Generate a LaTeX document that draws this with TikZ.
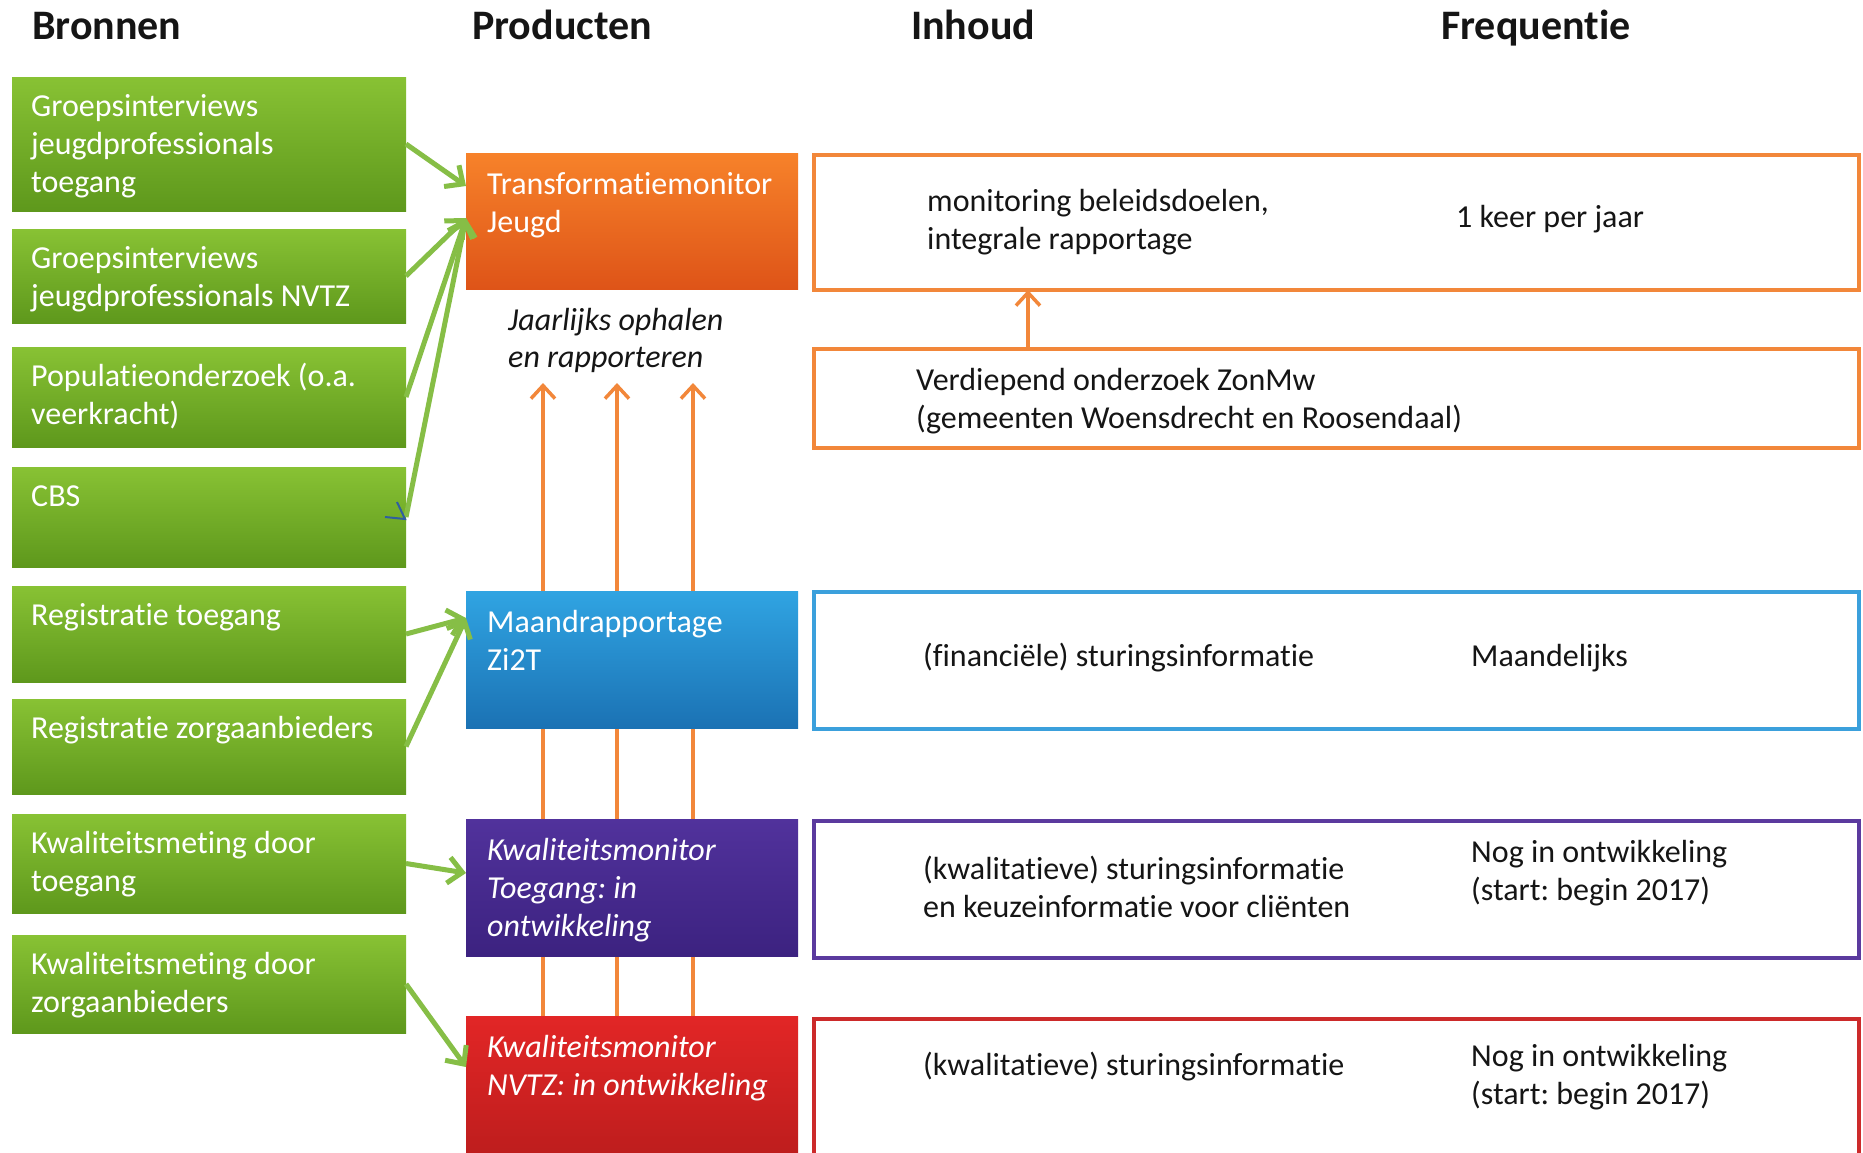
\documentclass[tikz,border=0pt]{standalone}
\usepackage{fontspec}
\setmainfont{Carlito}[Ligatures=CommonOff]
\usetikzlibrary{arrows.meta}
\definecolor{gtop}{HTML}{88C234}
\definecolor{gbot}{HTML}{5E981C}
\definecolor{garr}{HTML}{86BE46}
\definecolor{otop}{HTML}{F7822A}
\definecolor{obot}{HTML}{DE5418}
\definecolor{btop}{HTML}{30A4E2}
\definecolor{bbot}{HTML}{1B72B4}
\definecolor{ptop}{HTML}{51329C}
\definecolor{pbot}{HTML}{3C2280}
\definecolor{rtop}{HTML}{E22626}
\definecolor{rbot}{HTML}{B81C1C}
\definecolor{oline}{HTML}{F2873A}
\definecolor{bline}{HTML}{3BA0DC}
\definecolor{pline}{HTML}{5B3A9E}
\definecolor{rline}{HTML}{CC2A2A}
\definecolor{ink}{HTML}{151515}
\definecolor{bmark}{HTML}{2F5FA0}
\newcommand{\fs}{\rule{0pt}{26pt}}
\frenchspacing
\begin{document}
\begin{tikzpicture}[x=1pt,y=-1pt,
  box/.style={anchor=north west, inner sep=0pt, outer sep=0pt},
  gbox/.style={box, minimum width=394pt, top color=gtop, bottom color=gbot, draw=none},
  pbox/.style={box, minimum width=332pt, minimum height=137pt, draw=none},
  rbox/.style={box, minimum width=1045pt, line width=4pt, fill=white},
  txt/.style={anchor=north west, inner sep=0pt, align=left, font=\fontsize{32pt}{38pt}\selectfont},
  wtext/.style={txt, text=white},
  wit/.style={txt, text=white, font=\fontsize{32pt}{38pt}\selectfont\itshape},
  btext/.style={txt, text=ink},
  head/.style={anchor=base west, inner sep=0pt, text=ink, font=\fontsize{42pt}{48pt}\selectfont\bfseries},
  garrow/.style={draw=garr, line width=5pt, -{Straight Barb[length=14pt,width=26pt]}},
  oarrow/.style={draw=oline, line width=3.5pt, -{Straight Barb[length=13pt,width=24pt]}}
]
\fill[white] (0,0) rectangle (1863,1152);
\clip (0,0) rectangle (1863,1152);

% headings
\node[head] (h1) at (32,39) {Bronnen};
\node[head] (h2) at (472,39) {Producten};
\node[head] (h3) at (911,39) {Inhoud};
\node[head] (h4) at (1441,39) {Frequentie};

% sources
\node[gbox, minimum height=134pt] (g1) at (12,77) {};
\node[gbox, minimum height=94pt]  (g2) at (12,229) {};
\node[gbox, minimum height=100pt] (g3) at (12,347) {};
\node[gbox, minimum height=100pt] (g4) at (12,467) {};
\node[gbox, minimum height=96pt]  (g5) at (12,586) {};
\node[gbox, minimum height=95pt]  (g6) at (12,699) {};
\node[gbox, minimum height=99pt]  (g7) at (12,814) {};
\node[gbox, minimum height=98pt]  (g8) at (12,935) {};

\node[wtext] (g1t) at (31,90) {\fs Groepsinterviews\\jeugdprofessionals\\toegang};
\node[wtext] (g2t) at (31,242) {\fs Groepsinterviews\\jeugdprofessionals NVTZ};
\node[wtext] (g3t) at (31,360) {\fs Populatieonderzoek (o.a.\\veerkracht)};
\node[wtext] (g4t) at (31,480) {\fs CBS};
\node[wtext] (g5t) at (31,599) {\fs Registratie toegang};
\node[wtext] (g6t) at (31,712) {\fs Registratie zorgaanbieders};
\node[wtext] (g7t) at (31,827) {\fs Kwaliteitsmeting door\\toegang};
\node[wtext] (g8t) at (31,948) {\fs Kwaliteitsmeting door\\zorgaanbieders};

% product boxes (red first, arrows behind the others)
\node[pbox, top color=rtop, bottom color=rbot, minimum height=160pt] (red) at (466,1016) {};
\coordinate (t1) at (543,383);
\coordinate (t2) at (617,383);
\coordinate (t3) at (693,383);
\draw[oarrow] ([xshift=77pt]red.north west) -- (t1);
\draw[oarrow] ([xshift=151pt]red.north west) -- (t2);
\draw[oarrow] ([xshift=227pt]red.north west) -- (t3);

\node[pbox, top color=otop, bottom color=obot, minimum height=136pt] (orange) at (466,153) {};
\node[pbox, top color=btop, bottom color=bbot] (blue) at (466,591) {};
\node[pbox, top color=ptop, bottom color=pbot] (purple) at (466,819) {};

\node[wtext] (ot) at (487,168) {\fs Transformatiemonitor\\Jeugd};
\node[wtext] (bt) at (487,606) {\fs Maandrapportage\\Zi2T};
\node[wit] (pt) at (487,834) {\fs Kwaliteitsmonitor\\Toegang: in\\ontwikkeling};
\node[wit] (rt) at (487,1031) {\fs Kwaliteitsmonitor\\NVTZ: in ontwikkeling};

\node[txt, text=ink, font=\fontsize{32pt}{37pt}\selectfont\itshape] (jr) at (508,304) {\fs Jaarlijks ophalen\\en rapporteren};

% green arrows
\draw[garrow] (g1.east) -- ([yshift=-33pt]orange.north west);
\draw[garrow] (g2.east) -- ([yshift=-65pt]orange.north west);
\draw[garrow] (g3.east) -- ([yshift=-65pt]orange.north west);
\draw[garrow] (g4.east) -- ([yshift=-65pt]orange.north west);
\draw[garrow] (g5.east) -- ([yshift=-27pt]blue.north west);
\draw[garrow] (g6.east) -- ([yshift=-27pt]blue.north west);
\draw[garrow] (g7.east) -- ([yshift=-54pt]purple.north west);
\draw[garrow] (g8.east) -- ([yshift=-51pt]red.north west);
\draw[bmark, line width=2pt] (385,517) -- (405,519) -- (397,502);

% content boxes
\node[rbox, draw=oline, minimum height=135pt] (o1) at (814,155) {};
\node[rbox, draw=oline, minimum height=99pt] (o2) at (814,349) {};
\node[rbox, draw=bline, minimum height=137pt] (b1) at (814,592) {};
\node[rbox, draw=pline, minimum height=137pt] (p1) at (814,821) {};
\node[rbox, draw=rline, minimum height=160pt] (r1) at (814,1019) {};
\draw[oarrow] ([xshift=214pt]o2.north west) -- ([xshift=214pt]o1.south west);

\node[btext] (o1t) at (927,185) {\fs monitoring beleidsdoelen,\\integrale rapportage};
\node[btext] (o1f) at (1456,201) {\fs 1 keer per jaar};
\node[btext] (o2t) at (916,364) {\fs Verdiepend onderzoek ZonMw\\(gemeenten Woensdrecht en Roosendaal)};
\node[btext] (b1t) at (923,640) {\fs (financiële) sturingsinformatie};
\node[btext] (b1f) at (1471,640) {\fs Maandelijks};
\node[btext] (p1t) at (923,853) {\fs (kwalitatieve) sturingsinformatie\\en keuzeinformatie voor cliënten};
\node[btext] (p1f) at (1471,836) {\fs Nog in ontwikkeling\\(start: begin 2017)};
\node[btext] (r1t) at (923,1049) {\fs (kwalitatieve) sturingsinformatie};
\node[btext] (r1f) at (1471,1040) {\fs Nog in ontwikkeling\\(start: begin 2017)};
\end{tikzpicture}
\end{document}
